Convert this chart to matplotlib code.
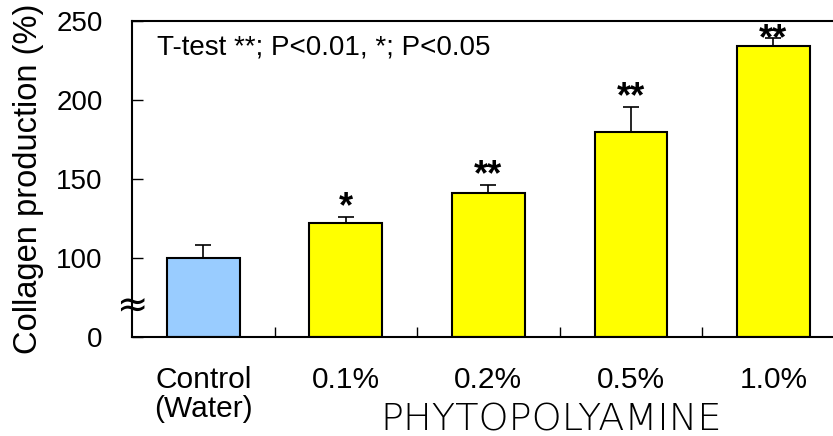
import numpy as np
import matplotlib
matplotlib.use("Agg")
import matplotlib.pyplot as plt

plt.rcParams['font.family'] = ['Liberation Sans', 'DejaVu Sans']

########## DATA ##########
groups = ["Control\n(Water)", "0.1%", "0.2%", "0.5%", "1.0%"]
means = [100, 122, 141, 180, 234.5]     # collagen production [%]
sds = [8, 4, 5, 15.5, 5]
stars = ["", "*", "**", "**", "**"]
colors = ["#99CCFF", "#FFFF00", "#FFFF00", "#FFFF00", "#FFFF00"]
yticks = [0, 100, 150, 200, 250]

# broken axis: everything from 100 upward is shifted down by 50,
# so 0 sits where 50 would be
shift = 50
def to_axis(v):
    v = np.asarray(v, dtype=float)
    return np.where(v >= 100, v - shift, v * 0.5)

x = np.arange(len(groups))
h = to_axis(means)
err = np.asarray(means) + np.asarray(sds)
e = to_axis(err) - h

########## PLOT ##########
fig = plt.figure(figsize=(8.33, 4.36), dpi=100)
ax = fig.add_axes([0.1585, 0.2271, 0.8556, 0.7247])

ax.bar(x, h, width=0.51, color=colors, edgecolor="black", linewidth=1.5, zorder=2)
ax.errorbar(x, h, yerr=[np.zeros_like(e), e], fmt="none", ecolor="black",
            elinewidth=1.2, capsize=5.5, capthick=1.2, zorder=1)

# significance marks, kept inside the frame
for xi, ti, s in zip(x, to_axis(err), stars):
    ax.text(xi, min(ti, 182), s, ha="center", va="baseline",
            fontsize=26, fontweight="bold")

ax.set_xlim(-0.5, 4.5)
ax.set_ylim(0, 200)
ax.set_yticks(to_axis(yticks))
ax.set_yticklabels([str(t) for t in yticks], fontsize=20)
ax.set_xticks(x)
ax.set_xticklabels(groups, fontsize=21.5, linespacing=1.05)
ax.set_xticks(x[:-1] + 0.5, minor=True)
ax.tick_params(axis="x", which="major", length=0, pad=21)
ax.tick_params(axis="x", which="minor", direction="in", length=7.5, width=1)
ax.tick_params(axis="y", direction="in", length=8, width=1, pad=21)

for sp in ax.spines.values():
    sp.set_linewidth(1.5)

ax.set_ylabel("Collagen production (%)", fontsize=23.5, labelpad=9)

ax.text(0.035, 0.915, "T-test **; P<0.01, *; P<0.05", transform=ax.transAxes,
        fontsize=20, ha="left", va="center")

ax.text(2.44, -0.262, "PHYTOPOLYAMINE", transform=ax.get_xaxis_transform(),
        ha="center", va="center", fontsize=27.5, family="DejaVu Sans",
        fontweight="light")

# axis break mark
ax.text(0.0, 0.095, "\u2248", transform=ax.transAxes, ha="center", va="center",
        fontsize=27, family=["DejaVu Sans", "Liberation Sans"],
        clip_on=False, zorder=5)

plt.savefig("out.png", dpi=100)
